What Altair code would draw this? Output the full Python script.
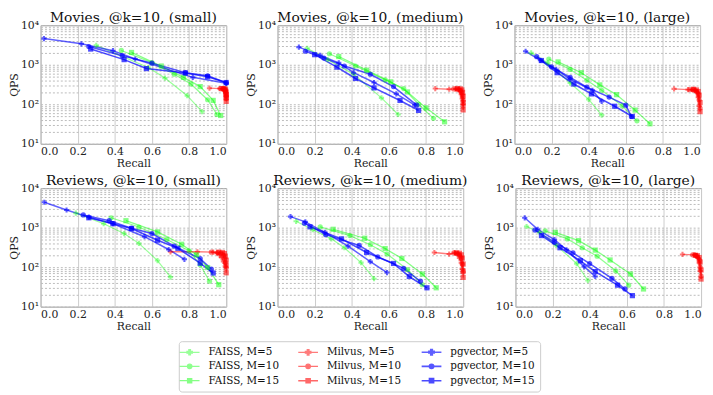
import altair as alt
import pandas as pd

FONT = "DejaVu Serif"

# ---------------- data (recall, QPS) ----------------
movies_small = {
    "FAISS, M=5": ([0.30, 0.58, 0.67, 0.79, 0.87], [3100, 850, 460, 165, 65]),
    "FAISS, M=10": ([0.435, 0.60, 0.72, 0.81, 0.90, 0.95], [2300, 1130, 575, 325, 130, 55]),
    "FAISS, M=15": ([0.49, 0.65, 0.77, 0.86, 0.93, 0.97], [2050, 930, 480, 280, 125, 52]),
    "Milvus, M=5": ([0.91, 0.965, 0.98, 0.99, 0.995, 0.998, 1.0], [255, 250, 245, 235, 215, 190, 165]),
    "Milvus, M=10": ([0.97, 0.985, 0.993, 0.997, 0.999, 1.0, 1.0], [250, 245, 235, 215, 185, 160, 140]),
    "Milvus, M=15": ([0.985, 0.993, 0.997, 0.999, 1.0, 1.0, 1.0], [250, 245, 230, 205, 175, 145, 118]),
    "pgvector, M=5": ([0.018, 0.22, 0.39, 0.51, 0.82, 1.0], [4600, 3400, 2270, 1400, 480, 340]),
    "pgvector, M=10": ([0.26, 0.44, 0.60, 0.78, 0.90, 1.0], [2900, 1700, 1100, 630, 525, 350]),
    "pgvector, M=15": ([0.27, 0.45, 0.57, 0.78, 0.90, 1.0], [2500, 1350, 800, 620, 500, 355]),
}
movies_medium = {
    "FAISS, M=5": ([0.16, 0.27, 0.41, 0.56, 0.65], [2600, 1350, 575, 145, 55]),
    "FAISS, M=10": ([0.28, 0.42, 0.58, 0.68, 0.76, 0.84], [1900, 930, 415, 250, 100, 44]),
    "FAISS, M=15": ([0.33, 0.48, 0.61, 0.70, 0.80, 0.90], [1620, 730, 370, 205, 81, 36]),
    "Milvus, M=5": ([0.85, 0.925, 0.96, 0.975, 0.985, 0.99, 0.995, 1.0], [250, 240, 245, 235, 215, 180, 140, 100]),
    "Milvus, M=10": ([0.95, 0.97, 0.985, 0.99, 0.995, 1.0, 1.0], [245, 240, 225, 200, 165, 125, 90]),
    "Milvus, M=15": ([0.97, 0.985, 0.993, 0.997, 1.0, 1.0, 1.0], [250, 245, 230, 200, 160, 110, 72]),
    "pgvector, M=5": ([0.115, 0.23, 0.33, 0.41, 0.52, 0.64, 0.74], [2800, 1730, 1120, 630, 355, 183, 95]),
    "pgvector, M=10": ([0.15, 0.25, 0.36, 0.50, 0.625, 0.75], [2200, 1480, 930, 575, 280, 95]),
    "pgvector, M=15": ([0.20, 0.32, 0.42, 0.52, 0.66, 0.76], [1800, 870, 450, 260, 125, 70]),
}
movies_large = {
    "FAISS, M=5": ([0.09, 0.18, 0.30, 0.40, 0.47], [2000, 1120, 345, 133, 53]),
    "FAISS, M=10": ([0.185, 0.30, 0.39, 0.47, 0.58, 0.66], [1400, 760, 405, 225, 91, 38]),
    "FAISS, M=15": ([0.235, 0.36, 0.46, 0.55, 0.65, 0.73], [1180, 630, 310, 175, 71, 32]),
    "Milvus, M=5": ([0.86, 0.935, 0.96, 0.975, 0.985, 0.99, 0.995], [245, 235, 235, 225, 200, 150, 90]),
    "Milvus, M=10": ([0.945, 0.965, 0.98, 0.99, 0.995, 1.0], [235, 230, 215, 180, 130, 80]),
    "Milvus, M=15": ([0.965, 0.98, 0.99, 0.995, 1.0, 1.0], [240, 230, 210, 170, 110, 65]),
    "pgvector, M=5": ([0.06, 0.14, 0.225, 0.30, 0.42, 0.47], [2200, 1300, 760, 430, 225, 118]),
    "pgvector, M=10": ([0.12, 0.20, 0.30, 0.39, 0.51, 0.60, 0.63], [1600, 890, 480, 270, 152, 95, 49]),
    "pgvector, M=15": ([0.145, 0.23, 0.32, 0.415, 0.54, 0.635], [1280, 630, 325, 183, 89, 49]),
}
reviews_small = {
    "FAISS, M=5": ([0.19, 0.34, 0.45, 0.53, 0.63, 0.70], [2330, 1260, 710, 400, 147, 56]),
    "FAISS, M=10": ([0.38, 0.53, 0.68, 0.80, 0.86, 0.91], [1780, 1040, 500, 260, 115, 44]),
    "FAISS, M=15": ([0.46, 0.63, 0.76, 0.84, 0.90, 0.96], [1500, 780, 380, 205, 98, 36]),
    "Milvus, M=5": ([0.70, 0.845, 0.93, 0.95, 0.965, 0.975, 0.985, 0.995], [245, 245, 240, 225, 200, 175, 140, 105]),
    "Milvus, M=10": ([0.92, 0.955, 0.97, 0.985, 0.99, 0.995, 1.0], [240, 235, 225, 200, 170, 130, 95]),
    "Milvus, M=15": ([0.96, 0.98, 0.99, 0.995, 1.0, 1.0, 1.0], [240, 235, 220, 190, 150, 110, 72]),
    "pgvector, M=5": ([0.02, 0.14, 0.26, 0.39, 0.56, 0.69, 0.775], [4400, 2800, 1850, 1260, 590, 280, 158]),
    "pgvector, M=10": ([0.23, 0.37, 0.49, 0.60, 0.72, 0.86, 0.92], [2100, 1500, 970, 710, 340, 165, 89]),
    "pgvector, M=15": ([0.26, 0.39, 0.49, 0.63, 0.74, 0.86, 0.93], [1780, 1260, 950, 480, 300, 126, 71]),
}
reviews_medium = {
    "FAISS, M=5": ([0.10, 0.19, 0.29, 0.36, 0.45, 0.52], [1450, 890, 520, 310, 130, 51]),
    "FAISS, M=10": ([0.23, 0.39, 0.50, 0.59, 0.70, 0.78], [1050, 630, 370, 215, 87, 36]),
    "FAISS, M=15": ([0.30, 0.47, 0.58, 0.67, 0.78, 0.855], [910, 540, 295, 166, 67, 30]),
    "Milvus, M=5": ([0.845, 0.925, 0.955, 0.97, 0.98, 0.99, 0.995], [235, 215, 230, 210, 170, 130, 90]),
    "Milvus, M=10": ([0.95, 0.965, 0.98, 0.99, 0.995, 1.0], [230, 225, 205, 170, 120, 75]),
    "Milvus, M=15": ([0.965, 0.98, 0.99, 0.995, 1.0, 1.0, 1.0], [230, 225, 205, 170, 120, 80, 55]),
    "pgvector, M=5": ([0.07, 0.15, 0.255, 0.38, 0.50, 0.59], [1900, 1400, 760, 340, 138, 73]),
    "pgvector, M=10": ([0.145, 0.26, 0.44, 0.54, 0.68, 0.77], [1300, 665, 355, 182, 93, 44]),
    "pgvector, M=15": ([0.175, 0.345, 0.48, 0.625, 0.71, 0.805], [1050, 520, 235, 124, 58, 30]),
}
reviews_large = {
    "FAISS, M=5": ([0.06, 0.13, 0.22, 0.33, 0.39], [1070, 760, 355, 123, 46]),
    "FAISS, M=10": ([0.16, 0.28, 0.36, 0.44, 0.54, 0.61], [830, 520, 310, 190, 81, 35]),
    "FAISS, M=15": ([0.215, 0.34, 0.43, 0.51, 0.62, 0.69], [760, 470, 270, 152, 67, 28]),
    "Milvus, M=5": ([0.90, 0.965, 0.975, 0.985, 0.99, 0.995], [210, 205, 195, 170, 130, 80]),
    "Milvus, M=10": ([0.955, 0.97, 0.98, 0.99, 0.995, 1.0], [205, 200, 185, 150, 100, 60]),
    "Milvus, M=15": ([0.97, 0.98, 0.99, 0.995, 1.0, 1.0], [200, 195, 175, 135, 85, 50]),
    "pgvector, M=5": ([0.05, 0.12, 0.21, 0.275, 0.37, 0.43], [1780, 910, 500, 275, 103, 58]),
    "pgvector, M=10": ([0.105, 0.21, 0.31, 0.40, 0.52, 0.59], [870, 430, 230, 123, 52, 28]),
    "pgvector, M=15": ([0.14, 0.24, 0.35, 0.43, 0.55, 0.63], [630, 310, 145, 77, 35, 19]),
}

PANELS_ROW1 = [("Movies, @k=10, (small)", movies_small),
               ("Movies, @k=10, (medium)", movies_medium),
               ("Movies, @k=10, (large)", movies_large)]
PANELS_ROW2 = [("Reviews, @k=10, (small)", reviews_small),
               ("Reviews, @k=10, (medium)", reviews_medium),
               ("Reviews, @k=10, (large)", reviews_large)]

# legend entries (filled column by column: FAISS, Milvus, pgvector)
SERIES = ["FAISS, M=5", "FAISS, M=10", "FAISS, M=15",
          "Milvus, M=5", "Milvus, M=10", "Milvus, M=15",
          "pgvector, M=5", "pgvector, M=10", "pgvector, M=15"]
COLORS = ["#00ff00"] * 3 + ["#ff0000"] * 3 + ["#0000ff"] * 3
OPACITIES = [0.4, 0.7, 1.0] * 3
WIDTHS = [1.2, 1.6, 2.2] * 3
MARKERS = {"5": "cross", "10": "circle", "15": "square"}

LINE_PATH = "M-2,0H2"
MARKER_PATHS = {
    "5": "M-0.17,-0.55H0.17V-0.17H0.55V0.17H0.17V0.55H-0.17V0.17H-0.55V-0.17H-0.17Z",
    "10": "M0.45,0A0.45,0.45 0 1,1 -0.45,0A0.45,0.45 0 1,1 0.45,0Z",
    "15": "M-0.42,-0.42H0.42V0.42H-0.42Z",
}
LEGEND_PATHS = [LINE_PATH + MARKER_PATHS[s.split("M=")[1]] for s in SERIES]

Y_TICKS = [m * 10 ** e for e in (1, 2, 3) for m in range(1, 10)] + [10000]
X_TICKS = [0.0, 0.2, 0.4, 0.6, 0.8, 1.0]

color_scale = alt.Scale(domain=SERIES, range=COLORS)
opacity_scale = alt.Scale(domain=SERIES, range=OPACITIES)
width_scale = alt.Scale(domain=SERIES, range=WIDTHS)
shape_scale = alt.Scale(domain=SERIES, range=LEGEND_PATHS)

LEG = alt.Legend(title=None, orient="none", legendX=140, legendY=320, columns=3,
                 symbolSize=100, labelFont=FONT, labelFontSize=10.5, labelOffset=13,
                 columnPadding=16, rowPadding=2.5, gridAlign="each", padding=5,
                 strokeColor="#cccccc", fillColor="white", cornerRadius=3,
                 labelColor="#111111", labelOpacity=1)


def to_frame(data):
    rows = []
    for s, (rec, qps) in data.items():
        m = s.split("M=")[1]
        for i, (r, q) in enumerate(zip(rec, qps)):
            rows.append({"series": s, "recall": r, "qps": q, "i": i, "marker": MARKERS[m]})
    return pd.DataFrame(rows)


def panel(title, data):
    df = to_frame(data)
    x = alt.X("recall:Q", title="Recall",
              scale=alt.Scale(domain=[0, 1], nice=False, zero=False, padding=0),
              axis=alt.Axis(values=X_TICKS, format=".1f", gridDash=[], gridColor="#cccccc"))
    y = alt.Y("qps:Q", title="QPS",
              scale=alt.Scale(type="log", domain=[10, 10000], nice=False, padding=0),
              axis=alt.Axis(values=Y_TICKS, labelOverlap=False, gridDash=[2, 2], gridColor="#bbbbbb",
                            labelExpr="datum.value == 10 ? '10¹' : datum.value == 100 ? '10²' : "
                                      "datum.value == 1000 ? '10³' : datum.value == 10000 ? '10⁴' : ''"))
    base = alt.Chart(df)
    color = alt.Color("series:N", scale=color_scale, legend=LEG)
    opac = alt.Opacity("series:N", scale=opacity_scale, legend=LEG)
    lines = base.mark_line().encode(
        x=x, y=y, color=color, opacity=opac,
        strokeWidth=alt.StrokeWidth("series:N", scale=width_scale, legend=LEG),
        order=alt.Order("i:Q"),
    )
    layers = [lines]
    for mk in ("cross", "circle", "square"):
        layers.append(
            base.transform_filter(alt.datum.marker == mk)
            .mark_point(filled=True, size=28, shape=mk)
            .encode(x=x, y=y, color=color, opacity=opac)
        )
    # legend-only layer (no rows): supplies the line+marker legend symbols
    layers.append(
        base.transform_filter("false").mark_point(filled=True, size=100).encode(
            x=x, y=y, color=color, opacity=opac,
            shape=alt.Shape("series:N", scale=shape_scale, legend=LEG),
        )
    )
    return alt.layer(*layers).properties(
        width=188, height=120,
        title=alt.TitleParams(title, font=FONT, fontSize=14, fontWeight="normal", offset=-6),
    )


row1 = alt.hconcat(*[panel(t, d) for t, d in PANELS_ROW1], spacing=15)
row2 = alt.hconcat(*[panel(t, d) for t, d in PANELS_ROW2], spacing=15)

chart = alt.vconcat(row1, row2, spacing=4).properties(
    padding={"left": 0, "top": 0, "right": 0, "bottom": 0}
).configure_view(
    stroke="#999999", strokeWidth=1
).configure_axis(
    labelFont=FONT, titleFont=FONT, labelFontSize=11, titleFontSize=11,
    titleFontWeight="normal", domain=False, ticks=False, labelPadding=2, titlePadding=1,
    labelColor="#222222", titleColor="#222222"
).configure_title(
    font=FONT, color="#111111"
)

chart.save("out.html", embed_options={"renderer": "svg", "actions": False})
